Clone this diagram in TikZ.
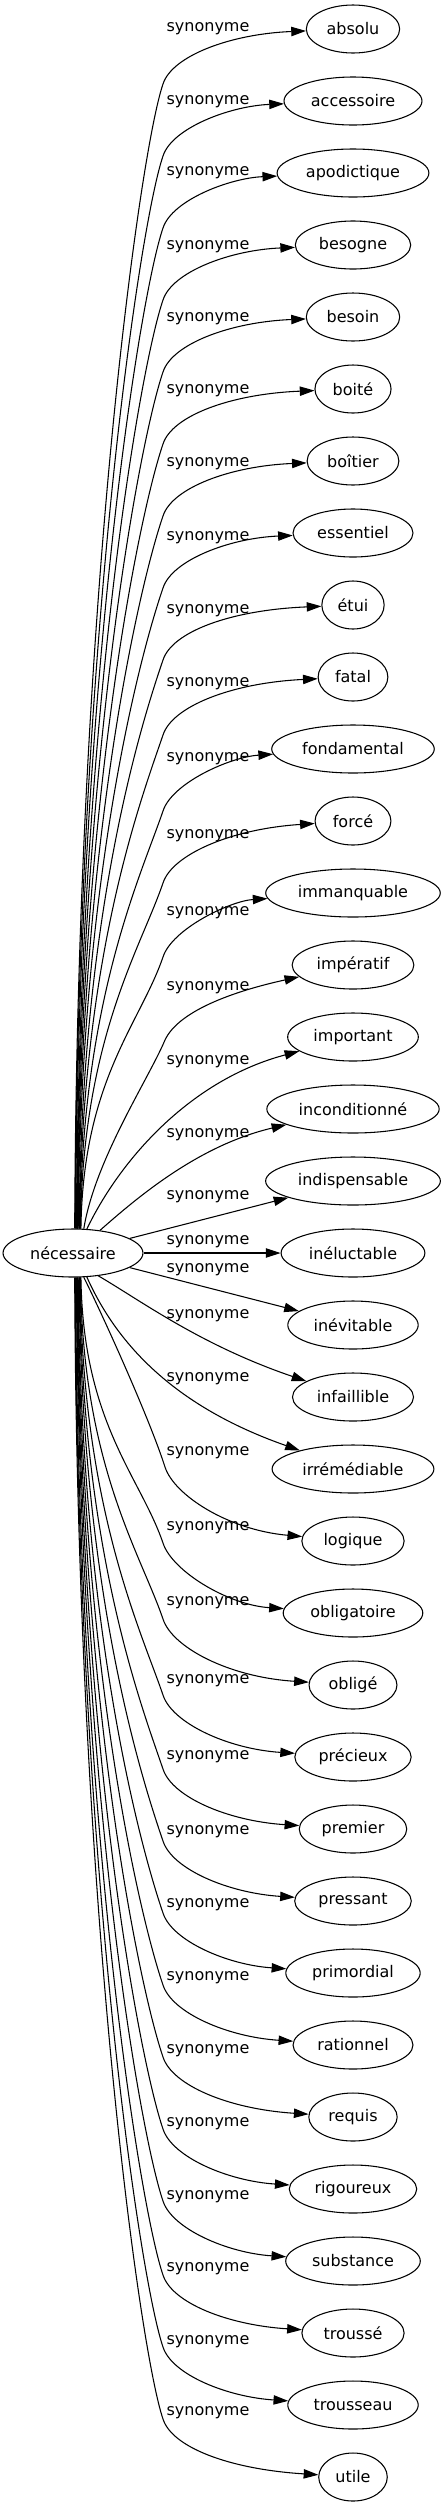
\documentclass[tikz,border=0pt]{standalone}
\usepackage{fontspec}
\setmainfont{DejaVu Sans}
\usetikzlibrary{shapes,arrows.meta}

\begin{document}
\begin{tikzpicture}[x=0.75pt,y=-0.75pt,
    font=\fontsize{12pt}{14pt}\selectfont,
    word/.style={draw, ellipse, line width=0.8pt, inner xsep=5pt, minimum height=36pt},
    syn/.style={inner sep=0pt},
    edge/.style={line width=0.8pt, -{Triangle[length=11pt,width=7pt]}}]
    \useasboundingbox (0,0) rectangle (445,2507);
    \node[word] (S) at (73,1253) {nécessaire};

    % upper half
    \node[word] (absolu) at (353,29) {absolu}; \node[syn] (l0) at (208,29) {synonyme};
    \draw[edge] (S.86) .. controls (77,600) and (140,151) .. (163,84) .. controls (172,56) and (230,34) .. (absolu);
    \node[word] (accessoire) at (353,101) {accessoire}; \node[syn] (l1) at (208,102) {synonyme};
    \draw[edge] (S.85) .. controls (77.5,639) and (140,223) .. (163,156) .. controls (172,128) and (230,106) .. (accessoire);
    \node[word] (apodictique) at (353,173) {apodictique}; \node[syn] (l2) at (208,173) {synonyme};
    \draw[edge] (S.84) .. controls (78,679) and (140,295) .. (163,228) .. controls (172,200) and (230,178) .. (apodictique);
    \node[word] (besogne) at (353,245) {besogne}; \node[syn] (l3) at (208,247) {synonyme};
    \draw[edge] (S.82) .. controls (78.5,719) and (140,367) .. (163,300) .. controls (172,272) and (230,250) .. (besogne);
    \node[word] (besoin) at (353,317) {besoin}; \node[syn] (l4) at (208,319) {synonyme};
    \draw[edge] (S.81) .. controls (79,758) and (140,439) .. (163,372) .. controls (172,344) and (230,322) .. (besoin);
    \node[word] (boite) at (353,389) {boité}; \node[syn] (l5) at (208,391) {synonyme};
    \draw[edge] (S.80) .. controls (79.5,798) and (140,511) .. (163,444) .. controls (172,416) and (230,394) .. (boite);
    \node[word] (boitier) at (353,461) {boîtier}; \node[syn] (l6) at (208,464) {synonyme};
    \draw[edge] (S.79) .. controls (80,837) and (140,583) .. (163,516) .. controls (172,488) and (230,466) .. (boitier);
    \node[word] (essentiel) at (353,533) {essentiel}; \node[syn] (l7) at (208,538) {synonyme};
    \draw[edge] (S.78) .. controls (80.5,877) and (140,655) .. (163,588) .. controls (172,560) and (230,538) .. (essentiel);
    \node[word] (etui) at (353,605) {étui}; \node[syn] (l8) at (208,611) {synonyme};
    \draw[edge] (S.76) .. controls (81,917) and (140,727) .. (163,660) .. controls (172,632) and (230,610) .. (etui);
    \node[word] (fatal) at (353,677) {fatal}; \node[syn] (l9) at (208,684) {synonyme};
    \draw[edge] (S.75) .. controls (81.5,958) and (140,802) .. (163,735) .. controls (172,707) and (230,683) .. (fatal);
    \node[word] (fondamental) at (353,749) {fondamental}; \node[syn] (l10) at (208,759) {synonyme};
    \draw[edge] (S.74) .. controls (82,1000) and (140,878) .. (163,811) .. controls (172,783) and (230,757) .. (fondamental);
    \node[word] (force) at (353,821) {forcé}; \node[syn] (l11) at (208,836) {synonyme};
    \draw[edge] (S.73) .. controls (82.5,1039) and (140,950) .. (163,883) .. controls (172,855) and (230,829) .. (force);
    \node[word] (immanquable) at (353,893) {immanquable}; \node[syn] (l12) at (208,913) {synonyme};
    \draw[edge] (S.72) .. controls (83,1080) and (140,1024) .. (163,957) .. controls (172,929) and (230,901) .. (immanquable);
    \node[word] (imperatif) at (353,965) {impératif}; \node[syn] (l13) at (208,988) {synonyme};
    \draw[edge] (S.66) .. controls (95,1160) and (148,1080) .. (165,1040) .. controls (178,1012) and (230,992) .. (imperatif);
    \node[word] (important) at (353,1037) {important}; \node[syn] (l14) at (208,1062) {synonyme};
    \draw[edge] (S.60) .. controls (120,1160) and (190,1080) .. (important);
    \node[word] (inconditionne) at (353,1109) {inconditionné}; \node[syn] (l15) at (208,1135) {synonyme};
    \draw[edge] (S.40) .. controls (140,1195) and (200,1145) .. (inconditionne);
    \node[word] (indispensable) at (353,1181) {indispensable}; \node[syn] (l16) at (208,1197) {synonyme};
    \draw[edge] (S) -- (indispensable);
    \node[word] (ineluctable) at (353,1253) {inéluctable}; \node[syn] (l17) at (208,1242) {synonyme};
    \draw[edge] (S) -- (ineluctable);

    % lower half
    \node[word] (inevitable) at (353,1325) {inévitable}; \node[syn] (l18) at (208,1270) {synonyme};
    \draw[edge] (S) -- (inevitable);
    \node[word] (infaillible) at (353,1397) {infaillible}; \node[syn] (l19) at (208,1316) {synonyme};
    \draw[edge] (S.-42) .. controls (140,1300) and (200,1345) .. (infaillible);
    \node[word] (irremediable) at (353,1469) {irrémédiable}; \node[syn] (l20) at (208,1379) {synonyme};
    \draw[edge] (S.-60) .. controls (115,1340) and (170,1405) .. (irremediable);
    \node[word] (logique) at (353,1541) {logique}; \node[syn] (l21) at (208,1453) {synonyme};
    \draw[edge] (S.-66) .. controls (105,1320) and (150,1420) .. (165,1467) .. controls (174,1495) and (228,1530) .. (logique);
    \node[word] (obligatoire) at (353,1613) {obligatoire}; \node[syn] (l22) at (208,1528) {synonyme};
    \draw[edge] (S.-72) .. controls (83,1423) and (140,1476) .. (163,1543) .. controls (172,1571) and (228,1605) .. (obligatoire);
    \node[word] (oblige) at (353,1685) {obligé}; \node[syn] (l23) at (208,1603) {synonyme};
    \draw[edge] (S.-73) .. controls (82.5,1465) and (140,1552) .. (163,1619) .. controls (172,1647) and (228,1677) .. (oblige);
    \node[word] (precieux) at (353,1757) {précieux}; \node[syn] (l24) at (208,1681) {synonyme};
    \draw[edge] (S.-74) .. controls (82,1507) and (140,1628) .. (163,1695) .. controls (172,1723) and (228,1749) .. (precieux);
    \node[word] (premier) at (353,1829) {premier}; \node[syn] (l25) at (208,1757) {synonyme};
    \draw[edge] (S.-75) .. controls (81.5,1548) and (140,1702) .. (163,1769) .. controls (172,1797) and (228,1821) .. (premier);
    \node[word] (pressant) at (353,1901) {pressant}; \node[syn] (l26) at (208,1832) {synonyme};
    \draw[edge] (S.-76) .. controls (81,1587) and (140,1774) .. (163,1841) .. controls (172,1869) and (228,1893) .. (pressant);
    \node[word] (primordial) at (353,1973) {primordial}; \node[syn] (l27) at (208,1905) {synonyme};
    \draw[edge] (S.-78) .. controls (80.5,1627) and (140,1846) .. (163,1913) .. controls (172,1941) and (228,1965) .. (primordial);
    \node[word] (rationnel) at (353,2045) {rationnel}; \node[syn] (l28) at (208,1978) {synonyme};
    \draw[edge] (S.-79) .. controls (80,1666) and (140,1918) .. (163,1985) .. controls (172,2013) and (228,2037) .. (rationnel);
    \node[word] (requis) at (353,2117) {requis}; \node[syn] (l29) at (208,2051) {synonyme};
    \draw[edge] (S.-80) .. controls (79.5,1706) and (140,1990) .. (163,2057) .. controls (172,2085) and (228,2109) .. (requis);
    \node[word] (rigoureux) at (353,2189) {rigoureux}; \node[syn] (l30) at (208,2124) {synonyme};
    \draw[edge] (S.-81) .. controls (79,1746) and (140,2062) .. (163,2129) .. controls (172,2157) and (228,2181) .. (rigoureux);
    \node[word] (substance) at (353,2261) {substance}; \node[syn] (l31) at (208,2197) {synonyme};
    \draw[edge] (S.-82) .. controls (78.5,1785) and (140,2134) .. (163,2201) .. controls (172,2229) and (228,2253) .. (substance);
    \node[word] (trousse) at (353,2333) {troussé}; \node[syn] (l32) at (208,2269) {synonyme};
    \draw[edge] (S.-84) .. controls (78,1826) and (140,2208) .. (163,2275) .. controls (172,2303) and (228,2325) .. (trousse);
    \node[word] (trousseau) at (353,2405) {trousseau}; \node[syn] (l33) at (208,2342) {synonyme};
    \draw[edge] (S.-85) .. controls (77.5,1866) and (140,2280) .. (163,2347) .. controls (172,2375) and (228,2397) .. (trousseau);
    \node[word] (utile) at (353,2477) {utile}; \node[syn] (l34) at (208,2413) {synonyme};
    \draw[edge] (S.-86) .. controls (77,1905) and (140,2352) .. (163,2419) .. controls (172,2447) and (228,2469) .. (utile);
\end{tikzpicture}
\end{document}
